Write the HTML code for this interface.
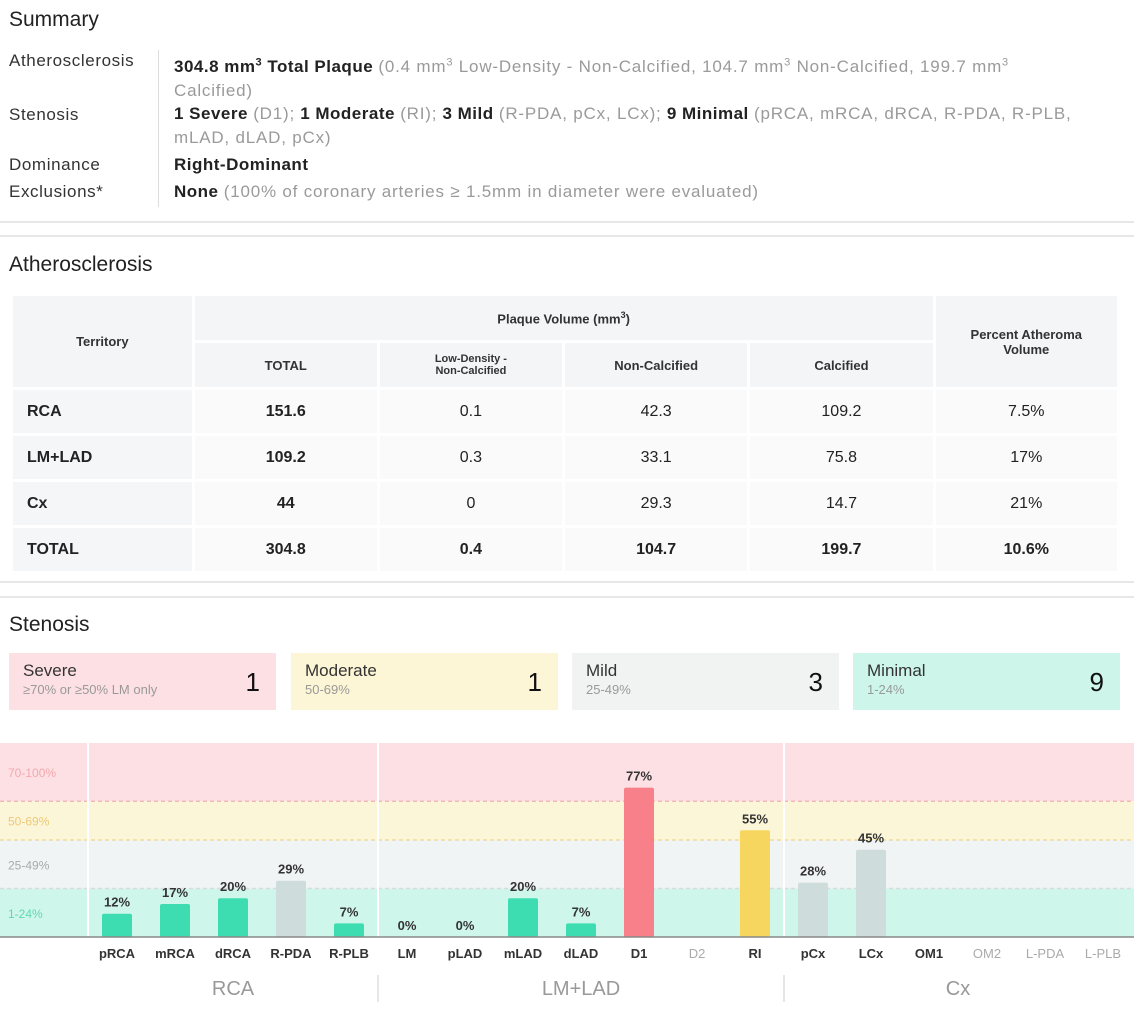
<!DOCTYPE html>
<html><head><meta charset="utf-8">
<style>
*{margin:0;padding:0;box-sizing:border-box}
body{width:1134px;height:1018px;background:#fff;font-family:"Liberation Sans",sans-serif;color:#222;position:relative;overflow:hidden}
.abs{position:absolute}
.h{font-size:21px;color:#222}
.lbl{font-size:17px;color:#333;letter-spacing:0.6px}
.val{font-size:17px;color:#222;line-height:24px;letter-spacing:0.5px;white-space:nowrap}
.val b{font-weight:bold}
.g{color:#9a9a9a;letter-spacing:0.8px}
.sep{position:absolute;left:0;width:1134px;height:2px;background:#e6e8e8}
table{position:absolute;left:10px;top:293px;width:1110px;border-collapse:separate;border-spacing:3px;font-size:16px}
td,th{text-align:center;background:#fafafa}
th{background:#f4f5f6;font-weight:bold;font-size:13px;color:#333}
td.t{text-align:left;padding-left:14px;background:#f5f6f7;font-weight:bold}
td.b{font-weight:bold}
.card{position:absolute;top:653px;width:267px;height:57px;padding:8px 0 0 14px}
.card .n{font-size:17px;color:#333}
.card .s{font-size:13px;color:#999;margin-top:1px}
.card .c{position:absolute;right:16px;top:14px;font-size:26px;color:#111}
</style></head><body>
<div class="abs h" style="left:9px;top:8px">Summary</div>
<div class="abs" style="left:158px;top:50px;width:1px;height:157px;background:#ddd"></div>
<div class="abs lbl" style="left:9px;top:51px">Atherosclerosis</div>
<div class="abs lbl" style="left:9px;top:105px">Stenosis</div>
<div class="abs lbl" style="left:9px;top:155px">Dominance</div>
<div class="abs lbl" style="left:9px;top:182px">Exclusions*</div>
<div class="abs val" style="left:174px;top:50px"><b>304.8 mm<sup style="font-size:11px">3</sup> Total Plaque</b> <span class="g">(0.4 mm<sup style="font-size:11px">3</sup> Low-Density - Non-Calcified, 104.7 mm<sup style="font-size:11px">3</sup> Non-Calcified, 199.7 mm<sup style="font-size:11px">3</sup><br>Calcified)</span></div>
<div class="abs val" style="left:174px;top:102px"><b>1 Severe</b> <span class="g">(D1);</span> <b>1 Moderate</b> <span class="g">(RI);</span> <b>3 Mild</b> <span class="g">(R-PDA, pCx, LCx);</span> <b>9 Minimal</b> <span class="g">(pRCA, mRCA, dRCA, R-PDA, R-PLB,<br>mLAD, dLAD, pCx)</span></div>
<div class="abs val" style="left:174px;top:153px"><b>Right-Dominant</b></div>
<div class="abs val" style="left:174px;top:180px"><b>None</b> <span class="g">(100% of coronary arteries ≥ 1.5mm in diameter were evaluated)</span></div>
<div class="sep" style="top:221px"></div>
<div class="sep" style="top:235px"></div>

<div class="abs h" style="left:9px;top:253px">Atherosclerosis</div>
<table>
<tr style="height:44px"><th rowspan="2" style="width:180px">Territory</th><th colspan="4">Plaque Volume (mm<sup style="font-size:9px">3</sup>)</th><th rowspan="2" style="width:183px">Percent Atheroma<br>Volume</th></tr>
<tr style="height:44px"><th style="width:184px">TOTAL</th><th style="width:184px;font-size:11px">Low-Density -<br>Non-Calcified</th><th style="width:184px">Non-Calcified</th><th style="width:184px">Calcified</th></tr>
<tr style="height:43px"><td class="t">RCA</td><td class="b">151.6</td><td>0.1</td><td>42.3</td><td>109.2</td><td>7.5%</td></tr>
<tr style="height:43px"><td class="t">LM+LAD</td><td class="b">109.2</td><td>0.3</td><td>33.1</td><td>75.8</td><td>17%</td></tr>
<tr style="height:43px"><td class="t">Cx</td><td class="b">44</td><td>0</td><td>29.3</td><td>14.7</td><td>21%</td></tr>
<tr style="height:43px"><td class="t">TOTAL</td><td class="b">304.8</td><td class="b">0.4</td><td class="b">104.7</td><td class="b">199.7</td><td class="b">10.6%</td></tr>
</table>
<div class="sep" style="top:581px"></div>
<div class="sep" style="top:596px"></div>

<div class="abs h" style="left:9px;top:613px">Stenosis</div>
<div class="card" style="left:9px;background:#fde0e3"><div class="n">Severe</div><div class="s">≥70% or ≥50% LM only</div><div class="c">1</div></div>
<div class="card" style="left:291px;background:#fcf5d6"><div class="n">Moderate</div><div class="s">50-69%</div><div class="c">1</div></div>
<div class="card" style="left:572px;background:#f1f3f3"><div class="n">Mild</div><div class="s">25-49%</div><div class="c">3</div></div>
<div class="card" style="left:853px;background:#cdf5ea"><div class="n">Minimal</div><div class="s">1-24%</div><div class="c">9</div></div>

<svg id="chart" class="abs" style="left:0;top:0" width="1134" height="1018"></svg>
<script>
const segments = ["pRCA","mRCA","dRCA","R-PDA","R-PLB","LM","pLAD","mLAD","dLAD","D1","D2","RI","pCx","LCx","OM1","OM2","L-PDA","L-PLB"];
const stenosisValues = [12,17,20,29,7,0,0,20,7,77,null,55,28,45,null,null,null,null];
const segmentEvaluated = [1,1,1,1,1,1,1,1,1,1,0,1,1,1,1,0,0,0];
const bandLabels = ["70-100%","50-69%","25-49%","1-24%"];
const bandEdges = [100,70,50,25,0];
const groups = ["RCA","LM+LAD","Cx"];
const groupStart = [0,5,12];
const groupEnd = [4,11,17];

const svg = document.getElementById('chart');
const NS = 'http://www.w3.org/2000/svg';
const baseY = 937, topY = 743, plotL = 0, plotR = 1134, firstX = 117, stepX = 58, barW = 30;
const y = v => baseY - (v/100)*(baseY-topY);
const x = i => firstX + i*stepX;
function mk(tag, attrs){const e=document.createElementNS(NS,tag);for(const k in attrs)e.setAttribute(k,attrs[k]);svg.appendChild(e);return e;}
const bandFill = ["#fde0e3","#fcf6d8","#f1f4f4","#cff6ea"];
const bandText = ["#f2a8ae","#ecc97a","#a9aaaa","#5fd8b5"];
bandLabels.forEach((lab,i)=>{
  const r = mk('rect',{x:plotL,y:y(bandEdges[i]),width:plotR-plotL,height:y(bandEdges[i+1])-y(bandEdges[i]),fill:bandFill[i]});
  
  
  if(i>0){const l = mk('line',{x1:plotL,x2:plotR,y1:y(bandEdges[i]),y2:y(bandEdges[i]),stroke:['','#f0b8b8','#f0dc9a','#dadada'][i],'stroke-width':1.5,'stroke-dasharray':'4,3'});
    
    }
  const t = mk('text',{x:8,y:(y(bandEdges[i])+y(bandEdges[i+1]))/2+5,'font-size':12,fill:bandText[i]});
  t.textContent = lab;
  
  
});
const sepXs = [x(0)-29, x(groupStart[1])-29, x(groupStart[2])-29];
sepXs.forEach(sx=>{
  const l = mk('line',{x1:sx,x2:sx,y1:topY,y2:baseY,stroke:'#ffffff','stroke-width':2});
  
  
});
[1,2].forEach(g=>{
  const sx = x(groupStart[g])-29;
  const l = mk('line',{x1:sx,x2:sx,y1:975,y2:1002,stroke:'#ddd','stroke-width':1.5});
  
  
});
function colorFor(v){return v>=70?'#f8808a':v>=50?'#f6d65e':v>=25?'#cfdcdc':'#3ddcb1';}
segments.forEach((s,i)=>{
  const v = stenosisValues[i];
  if(v!==null){
    if(v>0){const b = mk('rect',{x:x(i)-barW/2,y:y(v),width:barW,height:baseY-y(v),fill:colorFor(v),rx:2});
      
      }
    const t = mk('text',{x:x(i),y:y(v)-7,'text-anchor':'middle','font-size':13,'font-weight':'bold',fill:'#333'});
    t.textContent = v+'%';
    
    
  }
  const t2 = mk('text',{x:x(i),y:958,'text-anchor':'middle','font-size':13,'font-weight':segmentEvaluated[i]?'bold':'normal',fill:segmentEvaluated[i]?'#333':'#aaa'});
  t2.textContent = s;
  
  
});
const ax = mk('line',{x1:0,x2:plotR,y1:baseY,y2:baseY,stroke:'#888','stroke-width':1.5});


groups.forEach((g,i)=>{
  const cx = (x(groupStart[i])+x(groupEnd[i]))/2;
  const t = mk('text',{x:cx,y:995,'text-anchor':'middle','font-size':20,fill:'#999'});
  t.textContent = g;
  
  
});
</script>
</body></html>
